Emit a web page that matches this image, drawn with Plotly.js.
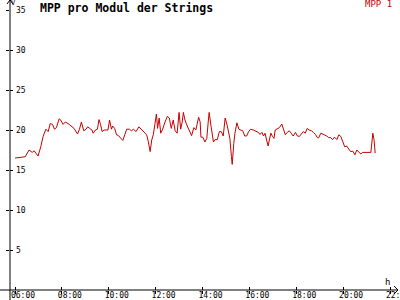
<!DOCTYPE html>
<html>
<head>
<meta charset="utf-8">
<script src="https://cdn.plot.ly/plotly-3.0.1.min.js"></script>
<style>html,body{margin:0;padding:0;background:#fff;}#chart{width:400px;height:300px;}</style>
</head>
<body>
<div id="chart"></div>
<script>
// Data
const times = ["06:00","06:13","06:26","06:36","06:44","06:49","06:54","06:59","07:06","07:12","07:19","07:25","07:30","07:36","07:41","07:46","07:53","07:57","08:03","08:09","08:16","08:26","08:31","08:40","08:45","08:50","08:56","09:02","09:06","09:11","09:17","09:20","09:26","09:31","09:35","09:39","09:43","09:48","09:54","09:58","10:02","10:07","10:10","10:15","10:20","10:25","10:31","10:36","10:41","10:46","10:53","10:58","11:03","11:10","11:17","11:23","11:30","11:37","11:41","11:46","11:50","11:54","11:58","12:02","12:05","12:09","12:13","12:18","12:24","12:30","12:35","12:40","12:45","12:50","12:55","13:00","13:04","13:08","13:11","13:15","13:21","13:28","13:32","13:38","13:43","13:50","13:54","13:56","14:01","14:06","14:11","14:15","14:17","14:22","14:28","14:32","14:38","14:43","14:48","14:53","14:58","15:03","15:07","15:10","15:14","15:16","15:20","15:23","15:28","15:33","15:38","15:43","15:48","15:53","15:58","16:03","16:10","16:17","16:23","16:27","16:32","16:36","16:40","16:44","16:48","16:51","16:55","16:59","17:03","17:06","17:11","17:17","17:23","17:27","17:32","17:37","17:42","17:47","17:52","17:58","18:03","18:08","18:13","18:18","18:23","18:28","18:33","18:39","18:44","18:49","18:54","18:57","19:03","19:08","19:13","19:18","19:23","19:28","19:33","19:38","19:44","19:49","19:54","19:59","20:04","20:09","20:14","20:19","20:25","20:30","20:35","20:40","20:45","20:50","21:00","21:11","21:16","21:19","21:22"];
const mpp1 = [16.5,16.6,16.65,17.5,17.2,17.4,17.0,16.75,17.9,19.2,20.1,19.8,20.8,20.7,20.1,20.3,21.4,21.25,20.7,21.0,20.8,20.4,20.2,19.5,20.1,21.0,19.9,20.1,20.4,20.2,20.0,19.6,20.0,20.1,21.3,20.7,19.8,20.0,20.0,20.0,21.25,20.1,20.5,20.2,19.4,19.3,18.95,18.7,19.4,20.1,20.1,19.9,20.1,19.8,20.4,20.1,19.8,19.4,18.6,17.3,18.75,19.4,20.7,22.0,20.2,21.5,19.6,20.1,21.0,21.7,21.5,20.2,21.25,19.9,19.6,22.2,20.1,21.0,22.2,21.25,20.5,19.8,19.3,20.3,20.0,21.6,21.0,19.1,19.1,18.5,18.95,21.25,22.2,20.4,18.5,18.8,18.8,19.8,19.8,19.25,21.5,20.6,19.6,18.95,16.7,15.7,18.3,19.6,20.9,20.1,20.0,19.9,19.25,19.25,19.8,20.1,20.0,19.8,19.7,19.45,19.7,19.25,19.6,18.75,18.0,18.75,19.6,19.2,18.95,20.0,20.1,20.3,20.75,20.1,19.4,19.7,19.9,19.6,19.25,19.7,19.25,19.2,19.5,19.8,19.6,20.2,20.0,19.9,19.7,19.45,19.05,19.0,19.6,19.5,19.3,19.25,19.05,19.05,18.8,19.1,18.8,19.4,19.2,18.6,17.9,18.0,17.7,17.3,17.35,16.9,17.5,17.3,17.0,17.2,17.2,17.2,19.6,18.8,17.1];
const xTickVals = ["06:00","08:00","10:00","12:00","14:00","16:00","18:00","20:00","22:00"];
const yTickVals = [5,10,15,20,25,30,35];
const titleText = "MPP pro Modul der Strings";
const seriesName = "MPP 1";
const yUnit = "V";
const xUnit = "h";

const day = "2024-01-01 ";
const xs = times.map(t => day + t);
const xRange = [day + "05:47:12", day + "22:20:24"];
const yRange = [0, 35];
const mono = "DejaVu Sans Mono";
const red = "#c80000";
const xTickDates = xTickVals.map(t => day + t);

const traces = [
  {x: xs, y: mpp1, type: "scatter", mode: "lines", name: seriesName,
   line: {color: red, width: 1}, hoverinfo: "skip", showlegend: false},
  {x: [], y: [], xaxis: "x2", yaxis: "y2", type: "scatter", mode: "lines", showlegend: false},
  {x: [], y: [], xaxis: "x3", yaxis: "y", type: "scatter", mode: "lines", showlegend: false}
];

const tickFont = {family: mono, size: 8, color: "#000"};
const tickAxis = (ticks) => ({type: "date", range: xRange, overlaying: "x", showgrid: false, zeroline: false,
  showline: false, tickvals: xTickDates, ticks: ticks, ticklen: 3, tickwidth: 1, tickcolor: "#000",
  showticklabels: false, fixedrange: true});

const layout = {
  width: 400, height: 300,
  margin: {l: 10, r: 2, t: 10, b: 10},
  paper_bgcolor: "#fff", plot_bgcolor: "#fff",
  showlegend: false,
  title: {text: "<b>" + titleText + "</b>", font: {family: mono, size: 11.5, color: "#000"},
          xref: "container", x: 0.1, xanchor: "left", yref: "container", y: 0.975, yanchor: "middle"},
  xaxis: {type: "date", range: xRange, showgrid: false, zeroline: false, showline: false,
          anchor: "free", position: 1/280,
          tickvals: xTickDates, ticktext: xTickVals, ticks: "",
          tickfont: tickFont, ticklabelshift: 8, ticklabeloverflow: "allow", fixedrange: true},
  xaxis2: Object.assign(tickAxis("inside"), {anchor: "y2"}),
  xaxis3: Object.assign(tickAxis("outside"), {anchor: "y"}),
  yaxis: {range: yRange, showgrid: false, zeroline: false, showline: false,
          tickvals: yTickVals, ticks: "outside", ticklen: 3, tickwidth: 1, tickcolor: "#000",
          ticklabelposition: "inside", ticklabelstandoff: 3, ticklabeloverflow: "allow",
          tickfont: tickFont, fixedrange: true},
  yaxis2: {range: yRange, overlaying: "y", anchor: "x2", showgrid: false, zeroline: false, showline: false,
           tickvals: yTickVals, ticks: "inside", ticklen: 3, tickcolor: "#000",
           showticklabels: false, fixedrange: true},
  shapes: [
    {type: "line", xref: "paper", yref: "paper", x0: -10/388, x1: 1, y0: 0, y1: 0, line: {color: "#000", width: 1}},
    {type: "path", xref: "paper", yref: "paper", path: "M 0.9897 0.0143 L 1 0 L 0.9897 -0.0143", line: {color: "#000", width: 1}},
    {type: "line", xref: "paper", yref: "paper", x0: 0, x1: 0, y0: -10/280, y1: 290/280, line: {color: "#000", width: 1}},
    {type: "path", xref: "paper", yref: "paper", path: "M -0.0077 1.0214 L 0 1.0357 L 0.0077 1.0214", line: {color: "#000", width: 1}}
  ],
  annotations: [
    {text: seriesName, xref: "paper", yref: "paper", x: 384/388, y: 286/280, xanchor: "right", yanchor: "middle",
     showarrow: false, font: {family: mono, size: 9, color: red}},
    {text: yUnit, xref: "paper", yref: "paper", x: 3/388, y: 287/280, xanchor: "center", yanchor: "middle",
     showarrow: false, font: {family: mono, size: 7, color: "#000"}},
    {text: xUnit, xref: "paper", yref: "paper", x: 377/388, y: 8/280, xanchor: "center", yanchor: "middle",
     showarrow: false, font: {family: mono, size: 9, color: "#000"}}
  ]
};

Plotly.newPlot("chart", traces, layout, {displayModeBar: false, staticPlot: true});
</script>
</body>
</html>
